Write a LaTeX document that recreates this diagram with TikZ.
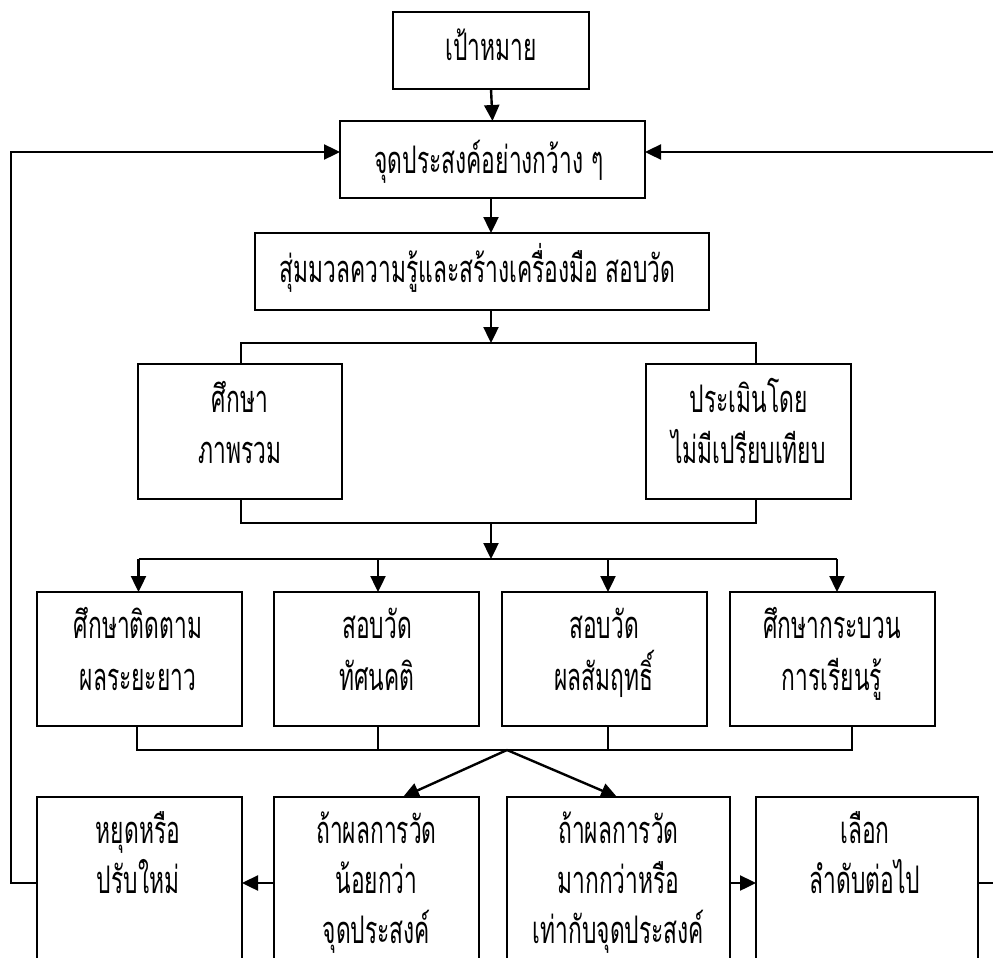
\documentclass[tikz,border=0pt]{standalone}
\usepackage{fontspec}
\newfontfamily\thaifont[Script=Thai,FakeStretch=0.6]{Loma}
\usetikzlibrary{arrows.meta}

\begin{document}
\begin{tikzpicture}[x=1pt,y=-1pt,
  box/.style={draw, line width=2.4pt, rectangle, inner sep=0pt, outer sep=0pt},
  lbl/.style={anchor=base, inner sep=0pt, font=\thaifont\fontsize{38}{44}\selectfont},
  link/.style={line width=2.4pt},
  thinlink/.style={line width=2pt},
  tip/.style={link, -{Triangle[length=16pt,width=15pt]}},
]
\useasboundingbox (0,0) rectangle (993,958);

% boxes
\node[box, minimum width=196pt, minimum height=77pt] (goal) at (491,50.5) {};
\node[box, minimum width=305pt, minimum height=77pt] (obj)  at (492.5,159.5) {};
\node[box, minimum width=454pt, minimum height=77pt] (samp) at (482,271.5) {};
\node[box, minimum width=204pt, minimum height=135pt] (over) at (240,431.5) {};
\node[box, minimum width=205pt, minimum height=135pt] (eval) at (748.5,431.5) {};
\node[box, minimum width=205pt, minimum height=134pt] (rA) at (139.5,659) {};
\node[box, minimum width=205pt, minimum height=134pt] (rB) at (376.5,659) {};
\node[box, minimum width=205pt, minimum height=134pt] (rC) at (604.5,659) {};
\node[box, minimum width=205pt, minimum height=134pt] (rD) at (832.5,659) {};
\node[box, minimum width=205pt, minimum height=172pt] (bE) at (139.5,883) {};
\node[box, minimum width=205pt, minimum height=172pt] (bF) at (376.5,883) {};
\node[box, minimum width=223pt, minimum height=172pt] (bG) at (618.5,883) {};
\node[box, minimum width=222pt, minimum height=172pt] (bH) at (867,883) {};

% labels
\node[lbl] (tGoal) at (491,60) {เป้าหมาย};
\node[lbl] (tObj)  at (489,173) {จุดประสงค์อย่างกว้าง ๆ};
\node[lbl] (tSamp) at (477.5,282) {สุ่มมวลความรู้และสร้างเครื่องมือ สอบวัด};
\node[lbl] (tOver1) at (240,412) {ศึกษา};
\node[lbl] (tOver2) at (240,463) {ภาพรวม};
\node[lbl] (tEval1) at (748.5,412) {ประเมินโดย};
\node[lbl] (tEval2) at (748.5,463) {ไม่มีเปรียบเทียบ};
\node[lbl] (tA1) at (138,638) {ศึกษาติดตาม};
\node[lbl] (tA2) at (138,690) {ผลระยะยาว};
\node[lbl] (tB1) at (377,638) {สอบวัด};
\node[lbl] (tB2) at (377,690) {ทัศนคติ};
\node[lbl] (tC1) at (604,638) {สอบวัด};
\node[lbl] (tC2) at (604,690) {ผลสัมฤทธิ์};
\node[lbl] (tD1) at (832,638) {ศึกษากระบวน};
\node[lbl] (tD2) at (832,690) {การเรียนรู้};
\node[lbl] (tE1) at (138,843) {หยุดหรือ};
\node[lbl] (tE2) at (138,893) {ปรับใหม่};
\node[lbl] (tF1) at (376.5,843) {ถ้าผลการวัด};
\node[lbl] (tF2) at (376.5,893) {น้อยกว่า};
\node[lbl] (tF3) at (376.5,943) {จุดประสงค์};
\node[lbl] (tG1) at (618.5,843) {ถ้าผลการวัด};
\node[lbl] (tG2) at (618.5,893) {มากกว่าหรือ};
\node[lbl] (tG3) at (618.5,943) {เท่ากับจุดประสงค์};
\node[lbl] (tH1) at (865,843) {เลือก};
\node[lbl] (tH2) at (865,893) {ลำดับต่อไป};

% junction points
\coordinate (j1) at (491,343);
\coordinate (j2) at (491,523);
\coordinate (j3) at (491,559);
\coordinate (j4) at (507,750);
\coordinate (oL) at ([xshift=1pt]over.north);
\coordinate (eL) at ([xshift=7.5pt]eval.north);
\coordinate (oB) at ([xshift=1pt]over.south);
\coordinate (eB) at ([xshift=7.5pt]eval.south);
\coordinate (aT) at ([xshift=-1pt]rA.north);
\coordinate (bT) at ([xshift=1.5pt]rB.north);
\coordinate (cT) at ([xshift=3.5pt]rC.north);
\coordinate (dT) at ([xshift=4.5pt]rD.north);
\coordinate (aS) at ([xshift=-2.5pt]rA.south);
\coordinate (bS) at ([xshift=1.5pt]rB.south);
\coordinate (cS) at ([xshift=3.5pt]rC.south);
\coordinate (dS) at ([xshift=19.5pt]rD.south);
\coordinate (fT) at ([xshift=26.5pt]bF.north);
\coordinate (gT) at ([xshift=-1.5pt]bG.north);
\coordinate (fbL) at (11,500);
\coordinate (fbR) at (1005,500);

% top chain
\draw[tip] (goal.south) -- (obj.north);
\draw[tip] (obj.south -| goal.south) -- (samp.north -| goal.south);
\draw[tip] (j1 |- samp.south) -- (j1);

% split into two branches and merge again
\draw[link] (oL) |- (j1) -| (eL);
\draw[link] (oB) |- (j2) -| (eB);
\draw[tip] (j2) -- (j3);

% split into four
\draw[link] (j3 -| aT) -- (j3 -| dT);
\draw[tip] (j3 -| aT) -- (aT);
\draw[tip] (j3 -| bT) -- (bT);
\draw[tip] (j3 -| cT) -- (cT);
\draw[tip] (j3 -| dT) -- (dT);

% merge the four
\draw[thinlink] (aS) -- (aS |- j4) -- (dS |- j4) -- (dS);
\draw[thinlink] (bS) -- (bS |- j4);
\draw[thinlink] (cS) -- (cS |- j4);

% decision
\draw[tip] (j4) -- (fT);
\draw[tip] (j4) -- (gT);
\draw[tip] (bF.west) -- (bE.east);
\draw[tip] (bG.east) -- (bH.west);

% feedback loops
\draw[tip] (bE.west) -| (fbL) |- ([yshift=7.5pt]obj.west);
\draw[tip] (bH.east) -| (fbR) |- ([yshift=7.5pt]obj.east);
\end{tikzpicture}
\end{document}
